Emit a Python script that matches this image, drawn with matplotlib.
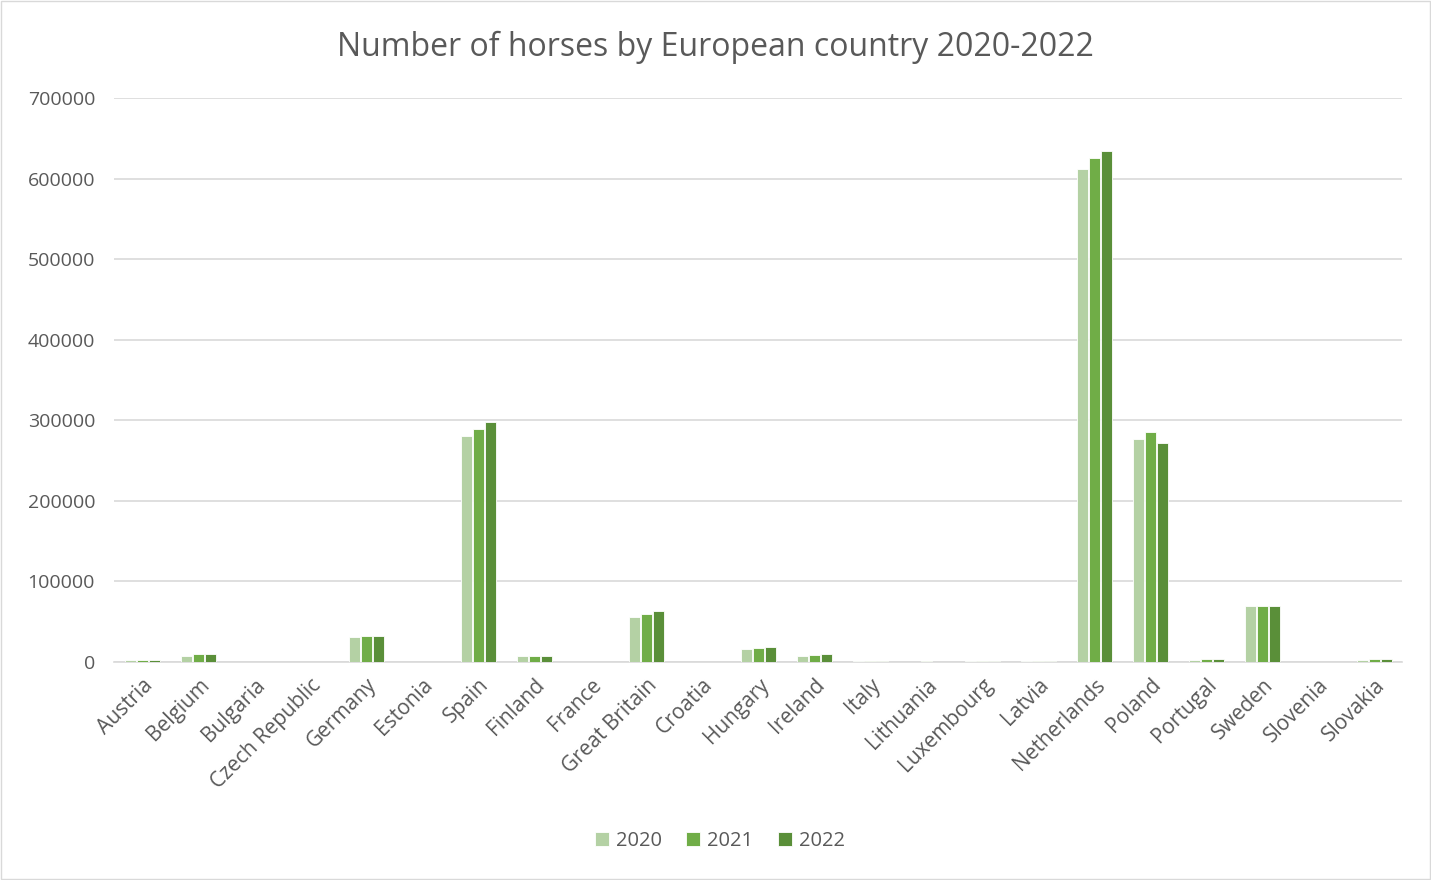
import numpy as np
import matplotlib.pyplot as plt

countries = ["Austria", "Belgium", "Bulgaria", "Czech Republic", "Germany", "Estonia",
             "Spain", "Finland", "France", "Great Britain", "Croatia", "Hungary",
             "Ireland", "Italy", "Lithuania", "Luxembourg", "Latvia", "Netherlands",
             "Poland", "Portugal", "Sweden", "Slovenia", "Slovakia"]
horses_2020 = [2500, 7500, 500, 500, 31000, 500, 280500, 7500, 300, 56000, 300, 16000,
               7500, 1500, 300, 1500, 1500, 612000, 277000, 2500, 70000, 500, 2500]
horses_2021 = [2500, 10000, 500, 500, 32500, 500, 289000, 8000, 300, 59500, 300, 17500,
               8500, 1500, 1000, 1500, 1500, 625000, 285500, 3500, 70000, 500, 3500]
horses_2022 = [2500, 10000, 500, 500, 32500, 500, 298000, 8000, 300, 63500, 300, 18500,
               10000, 1500, 300, 1500, 1500, 634000, 272000, 3500, 70000, 500, 3500]
years = ["2020", "2021", "2022"]
colors = ["#B4D1A4", "#70AD47", "#5A8F39"]

plt.rcParams['font.family'] = ['Open Sans', 'DejaVu Sans']
text_col = "#595959"

fig = plt.figure(figsize=(14.31, 8.8), dpi=100)
ax = fig.add_axes([0.080, 0.2477, 0.900, 0.641])

x = np.arange(len(countries))
w = 0.19
for i, (vals, yr) in enumerate(zip([horses_2020, horses_2021, horses_2022], years)):
    ax.bar(x + (i - 1) * (w + 0.025), vals, w, color=colors[i], label=yr,
           edgecolor="white", linewidth=0.6, zorder=3)

ax.set_xlim(-0.5, len(countries) - 0.5)
ax.set_ylim(0, 700000)
ax.set_yticks(range(0, 700001, 100000))
ax.yaxis.grid(True, color="#D9D9D9", linewidth=1.2, zorder=0)
for s in ["top", "right", "left"]:
    ax.spines[s].set_visible(False)
ax.spines["bottom"].set_color("#D9D9D9")
ax.spines["bottom"].set_linewidth(1.2)
ax.tick_params(axis="both", length=0, colors=text_col, labelsize=15)
ax.tick_params(axis="y", pad=14, labelsize=14)
ax.set_xticks(x)
ax.set_xticklabels(countries, rotation=45, ha="right", rotation_mode="anchor")
ax.tick_params(axis="x", pad=9)

fig.suptitle("Number of horses by European country 2020-2022", y=0.965, va="top",
             fontsize=23, color=text_col)
fig.legend(loc="center", bbox_to_anchor=(0.503, 0.044), ncol=3, frameon=False,
           fontsize=14.5, labelcolor=text_col, handlelength=0.7, handleheight=0.7,
           handletextpad=0.35, columnspacing=1.2)

fig.patches.append(plt.Rectangle((0.0005, 0.0008), 0.999, 0.998, transform=fig.transFigure,
                                 fill=False, edgecolor="#D9D9D9", linewidth=1))
fig.savefig("out.png", dpi=100)
